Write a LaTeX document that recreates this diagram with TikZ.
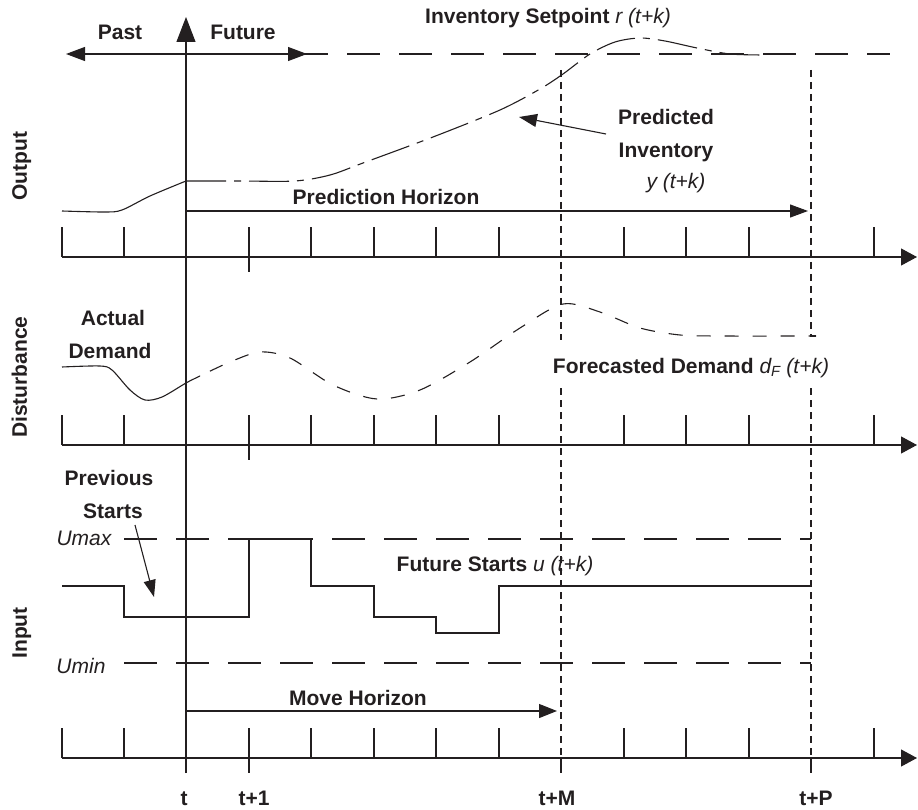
\documentclass[tikz,border=0pt]{standalone}
\usepackage{fontspec}
\setmainfont{Liberation Sans}
\usetikzlibrary{arrows.meta}
\definecolor{ink}{HTML}{231F20}
\begin{document}
\begin{tikzpicture}[x=1pt,y=-1pt,line width=1.1pt,draw=ink,text=ink,
  lbl/.style={font=\fontsize{21}{23}\selectfont\bfseries,inner sep=0pt,anchor=base},
  ilbl/.style={font=\fontsize{21}{23}\selectfont\itshape,inner sep=0pt,anchor=base},
  vlbl/.style={font=\fontsize{21}{23}\selectfont\bfseries,inner sep=0pt,anchor=base,rotate=90},
  axisline/.style={-{Triangle[length=16pt,width=17pt]}},
  bigtip/.style={-{Triangle[length=18pt,width=13pt]}},
  vdash/.style={dash pattern=on 7pt off 5pt},
  hdash/.style={dash pattern=on 33pt off 19pt},
  ddash/.style={dash pattern=on 14pt off 14pt},
  dashdotline/.style={dash pattern=on 40pt off 8pt on 7pt off 8pt}]
\useasboundingbox (0,0) rectangle (918,810);

% ---- axes ----
\foreach \yb/\nm in {257/ax1,445/ax2,758/ax3}{
  \coordinate (\nm s) at (62,\yb);
  \coordinate (\nm e) at (917,\yb);
  \draw[axisline] (\nm s) -- (\nm e);
  \foreach \xt in {62,124,249,311,374,436,499,624,686,749,874}
    \draw (\xt,\yb) -- (\xt,\yb-30);
  \draw (249,\yb) -- (249,\yb+15);
}
\draw (561,758) -- (561,773);
\draw (811,758) -- (811,773);

% ---- t line with top arrow ----
\coordinate (tbot) at (186,773);
\coordinate (ttop) at (186,17);
\draw[-{Triangle[length=25pt,width=19pt]}] (tbot) -- (ttop);

% ---- past / future arrow ----
\coordinate (pastL) at (66,54);
\coordinate (futR) at (307,54);
\draw[{Triangle[length=19pt,width=14pt]}-{Triangle[length=19pt,width=14pt]}] (pastL) -- (futR);
\node[lbl] (past) at (120,40) {Past};
\node[lbl] (future) at (243,40) {Future};

% ---- setpoint line ----
\coordinate (spL) at (295,54);
\coordinate (spR) at (890,54);
\draw[hdash] (spL) -- (spR);
\node[lbl] (setpt) at (548,24) {Inventory Setpoint \mdseries\itshape r (t+k)};

% ---- vertical dashed horizon lines ----
\draw[vdash] (561,70) -- (561,340);
\draw[vdash] (561,388) -- (561,758);
\draw[vdash] (811,70) -- (811,336) -- (816,336);
\draw[vdash] (811,388) -- (811,758);

% ---- output section ----
\node[vlbl] (output) at (27,166) {Output};
\draw plot[smooth,tension=0.5] coordinates {(62,211) (105,212) (122,210) (150,196) (186,181)};
\draw[dashdotline] plot[smooth,tension=0.5] coordinates {(186,181) (240,181) (295,181) (330,175) (363,163) (433,137) (500,110) (540,89) (563,74) (590,54) (615,42) (640,38) (665,41) (697,48) (730,54) (765,55)};
\coordinate (prA) at (606,134);
\coordinate (prB) at (519,117);
\draw[bigtip] (prA) -- (prB);
\node[lbl] (pred1) at (666,125) {Predicted};
\node[lbl] (pred2) at (666,158) {Inventory};
\node[ilbl] (pred3) at (676,189) {y (t+k)};
\coordinate (phS) at (186,211);
\coordinate (phE) at (808,211);
\draw[bigtip] (phS) -- (phE);
\node[lbl] (phlbl) at (386,205) {Prediction Horizon};

% ---- disturbance section ----
\node[vlbl] (dist) at (27,377) {Disturbance};
\node[lbl] (act1) at (113,325) {Actual};
\node[lbl] (act2) at (110,358) {Demand};
\def\distcurve{plot[smooth,tension=0.5] coordinates {(62,367) (100,366) (112,370) (130,390) (145,400) (162,397) (186,383) (200,376) (230,362) (260,352) (290,358) (333,385) (377,399) (420,390) (470,362) (520,328) (563,304) (600,312) (640,328) (680,335) (720,336) (816,336)}}
\begin{scope}
  \clip (0,280) rectangle (200,420);
  \draw \distcurve;
\end{scope}
\begin{scope}
  \clip (200,280) rectangle (918,420);
  \draw[ddash] \distcurve;
\end{scope}
\node[lbl] (fcst) at (691,373) {Forecasted Demand \mdseries\itshape d\textsubscript{F} (t+k)};

% ---- input section ----
\node[vlbl] (input) at (27,633) {Input};
\node[lbl] (prev1) at (109,485) {Previous};
\node[lbl] (prev2) at (113,518) {Starts};
\coordinate (psA) at (135,525);
\coordinate (psB) at (154,597);
\draw[-{Triangle[length=17pt,width=12pt]}] (psA) -- (psB);
\node[ilbl] (umax) at (84,545) {Umax};
\node[ilbl] (umin) at (81,673) {Umin};
\draw[hdash] (124,539) -- (811,539);
\draw[hdash] (124,663) -- (811,663);
\draw (62,586) -| (124,617) -| (249,539) -| (311,586) -| (374,617) -| (436,633) -| (499,586) -- (811,586);
\node[lbl] (fut) at (495,571) {Future Starts \mdseries\itshape u (t+k)};
\coordinate (mhS) at (186,711);
\coordinate (mhE) at (557,711);
\draw[-{Triangle[length=18pt,width=14pt]}] (mhS) -- (mhE);
\node[lbl] (mhlbl) at (358,705) {Move Horizon};

% ---- time labels ----
\node[lbl] (lt) at (184,805) {t};
\node[lbl] (lt1) at (254,805) {t+1};
\node[lbl] (ltm) at (557,805) {t+M};
\node[lbl] (ltp) at (816,805) {t+P};
\end{tikzpicture}
\end{document}
